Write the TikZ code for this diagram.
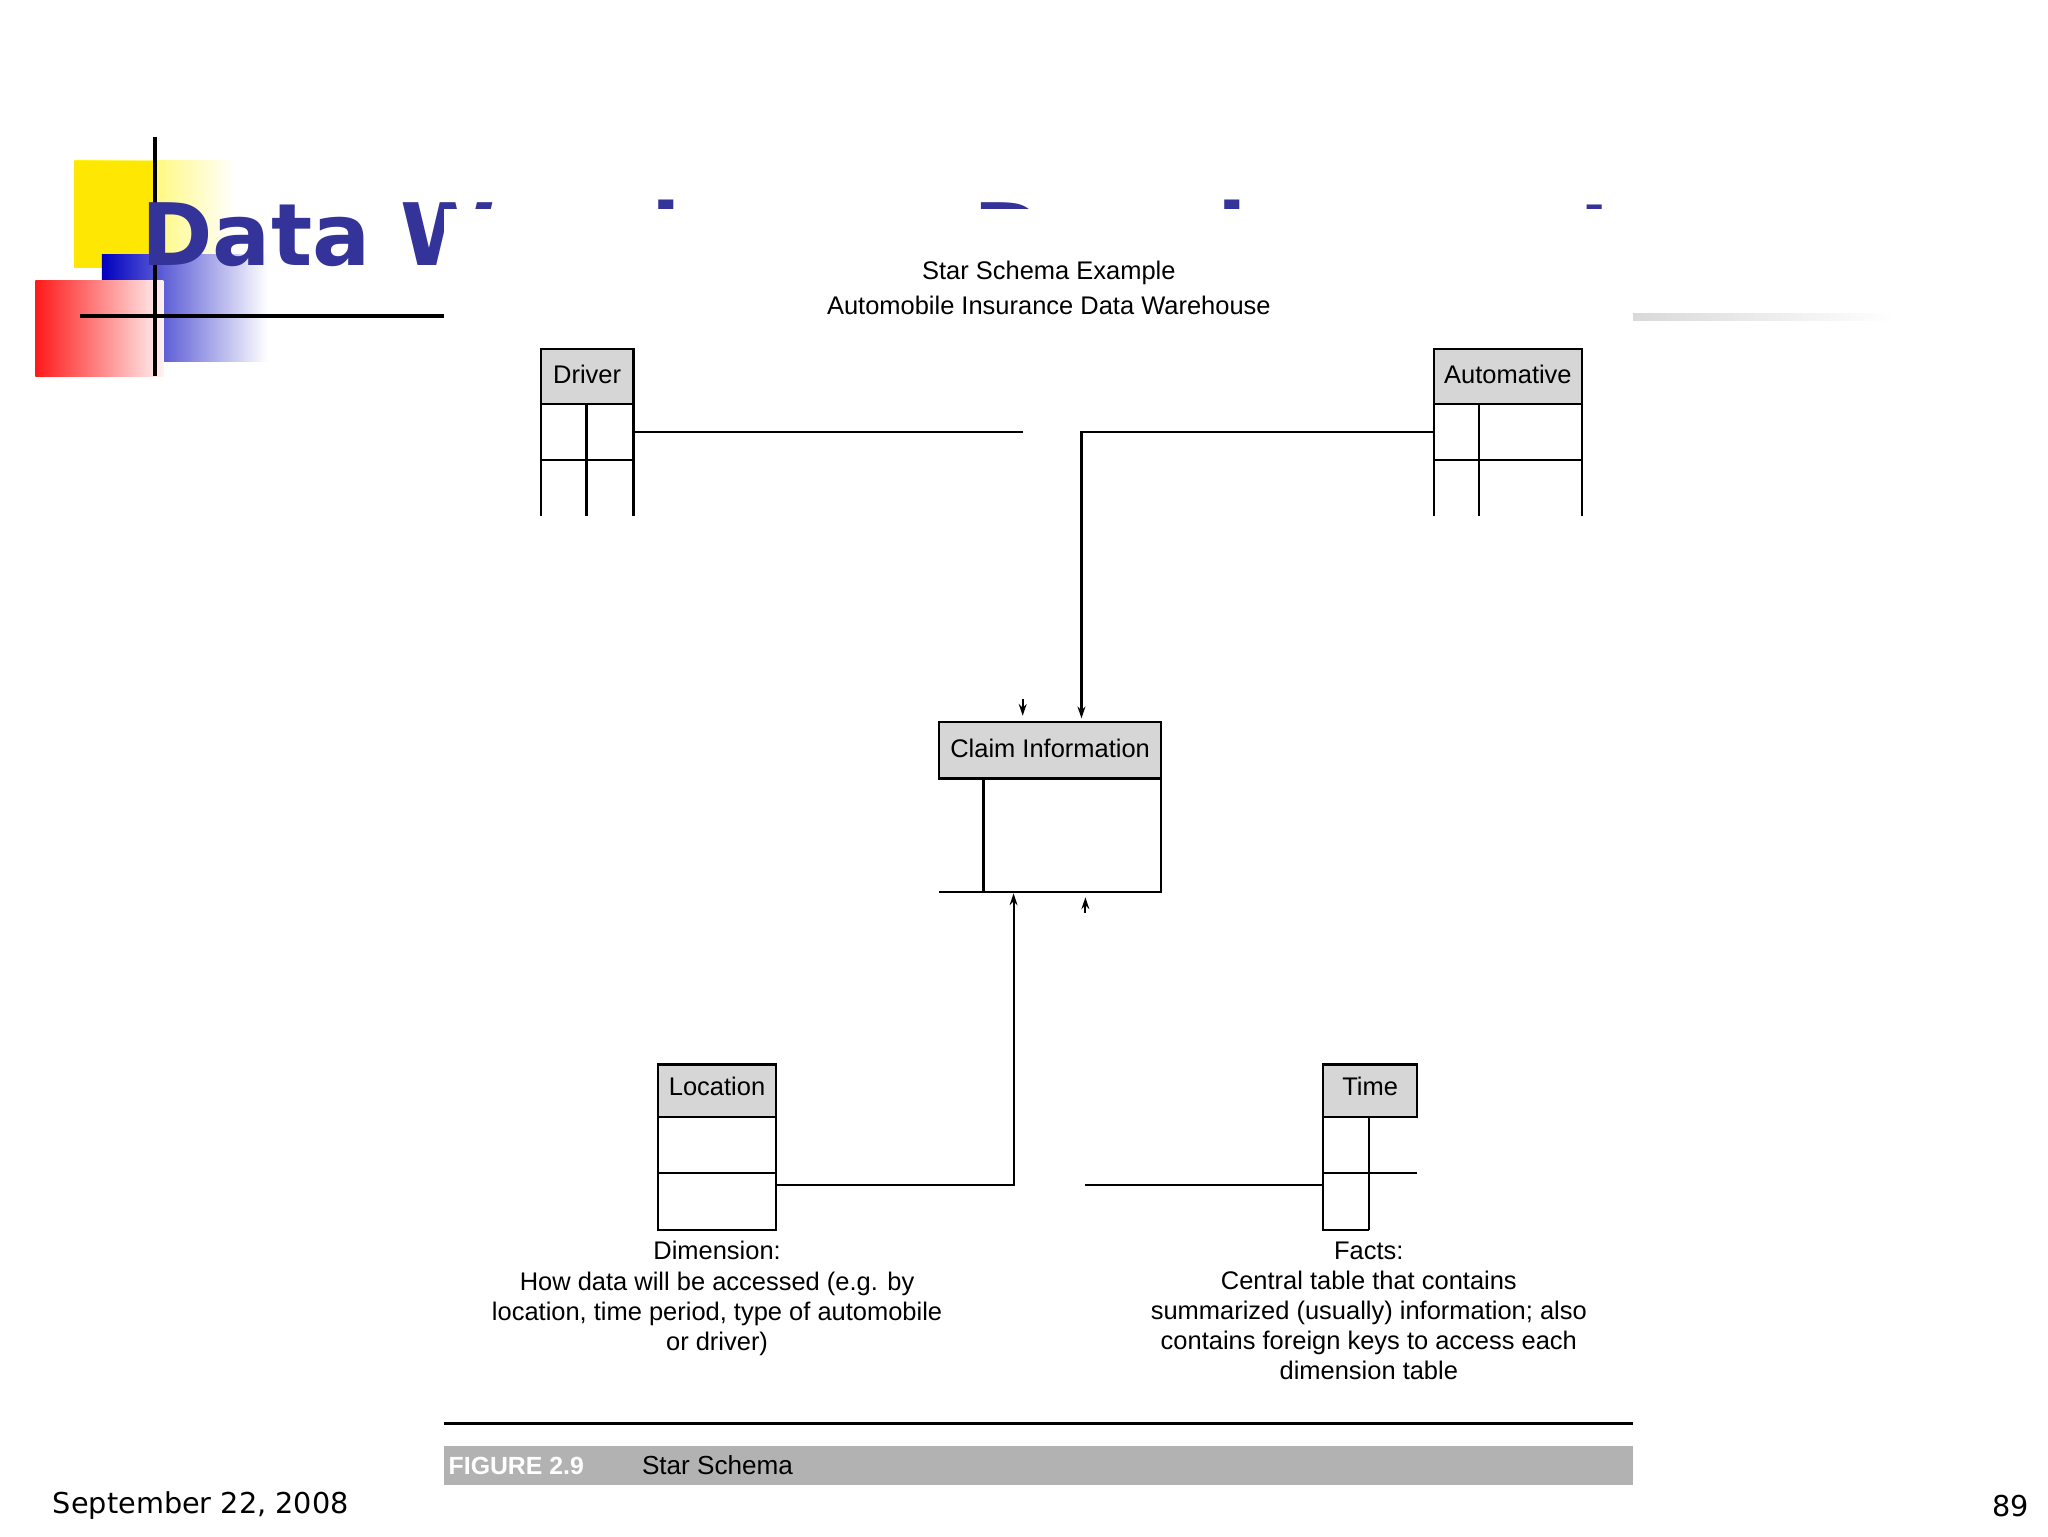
\documentclass[tikz,border=0pt]{standalone}
\usepackage{fontspec}
\setmainfont{Liberation Sans}
\newfontfamily\tahoma{DejaVu Sans}
\usetikzlibrary{arrows.meta}
\definecolor{titleblue}{RGB}{51,51,153}
\definecolor{hdr}{RGB}{214,214,214}
\tikzset{tbl/.style={line width=1.6pt},hdrbox/.style={fill=hdr,draw=black,line width=1.6pt},
 conn/.style={line width=1.6pt},arr/.style={-{Stealth[length=9pt,width=6pt]}},
 ftxt/.style={font=\fontsize{19.5}{23}\selectfont,align=center}}
\begin{document}
\begin{tikzpicture}[x=1pt,y=-1pt]
\useasboundingbox (0,0) rectangle (1568,1176);
\fill[white] (0,0) rectangle (1568,1176);
% logo
\shade[left color=yellow!90!orange,right color=white] (57,123) rectangle (180,205);
\fill[yellow!90!orange] (57,123) rectangle (120,205);
\shade[left color=blue!75!black,right color=white] (78,195) rectangle (205,277);
\shade[left color=red!90,right color=red!5] (27,215) rectangle (125,288);
\draw[line width=3pt] (119,105) -- (119,288);
\draw[line width=3pt] (61,242) -- (340,242);
\shade[left color=gray!30,right color=white] (1250,240) rectangle (1450,245);
% title
\node[anchor=base west,font=\tahoma\bfseries\fontsize{66}{70}\selectfont,text=titleblue,inner sep=0] (title) at (108,203) {Data Warehouse Development};
\fill[white] (340,160) rectangle (1250,1140);
% figure heading
\node[ftxt] (h1) at (803,209) {Star Schema Example};
\node[ftxt] (h2) at (803,234) {Automobile Insurance Data Warehouse};
% Driver
\draw[hdrbox] (414,267) rectangle (485,309);
\node[ftxt] (driver) at (449.5,287) {Driver};
\draw[tbl] (414,309) -- (414,395) (485,309) -- (485,395) (414,352) -- (485,352) (449,309) -- (449,395);
% Automative
\draw[hdrbox] (1098,267) rectangle (1211,309);
\node[ftxt] (auto) at (1154.5,287) {Automative};
\draw[tbl] (1098,309) -- (1098,395) (1211,309) -- (1211,395) (1098,352) -- (1211,352) (1132,309) -- (1132,395);
% Claim
\draw[hdrbox] (719,553) rectangle (889,596);
\node[ftxt] (claim) at (804,573) {Claim Information};
\draw[tbl] (889,596) -- (889,683) -- (719,683) (753,596) -- (753,683);
% Location
\draw[hdrbox] (504,815) rectangle (594,855);
\node[ftxt] (loc) at (549,832) {Location};
\draw[tbl] (504,855) rectangle (594,942) (504,898) -- (594,898);
% Time
\draw[hdrbox] (1013,815) rectangle (1085,855);
\node[ftxt] (time) at (1049,832) {Time};
\draw[tbl] (1013,855) -- (1013,942) -- (1048,942) (1048,855) -- (1048,942) (1013,898) -- (1085,898);
% connectors
\coordinate (d1) at (485,331); \coordinate (d2) at (783,331);
\draw[conn] (d1) -- (d2);
\coordinate (a1) at (1098,331); \coordinate (a2) at (828,331); \coordinate (a3) at (828,550);
\draw[conn,arr] (a1) -- (a2) -- (a3);
\coordinate (m1) at (783,535); \coordinate (m2) at (783,548);
\draw[conn,arr] (m1) -- (m2);
\coordinate (l1) at (594,907); \coordinate (l2) at (776,907); \coordinate (l3) at (776,684);
\draw[conn,arr] (l1) -- (l2) -- (l3);
\coordinate (t1) at (1013,907); \coordinate (t2) at (831,907);
\draw[conn] (t1) -- (t2);
\coordinate (n1) at (831,699); \coordinate (n2) at (831,687);
\draw[conn,arr] (n1) -- (n2);
% captions
\node[ftxt,anchor=north] (dim) at (549,947) {Dimension:\\How data will be accessed (e.g. by\\location, time period, type of automobile\\or driver)};
\node[ftxt,anchor=north] (facts) at (1048,947) {Facts:\\Central table that contains\\summarized (usually) information; also\\contains foreign keys to access each\\dimension table};
% figure caption
\draw[line width=2pt] (340,1090) -- (1250,1090);
\fill[gray!60] (340,1107) rectangle (1250,1137);
\node[anchor=west,font=\bfseries\fontsize{19}{20}\selectfont,text=white] (fig) at (340,1122) {FIGURE 2.9};
\node[anchor=west,font=\fontsize{20}{20}\selectfont] (figt) at (488,1122) {Star Schema};
% footer
\node[anchor=west,font=\tahoma\fontsize{22}{26}\selectfont] (date) at (37,1153) {September 22, 2008};
\node[anchor=east,font=\tahoma\fontsize{22}{26}\selectfont] (pg) at (1557,1153) {89};
\end{tikzpicture}
\end{document}
